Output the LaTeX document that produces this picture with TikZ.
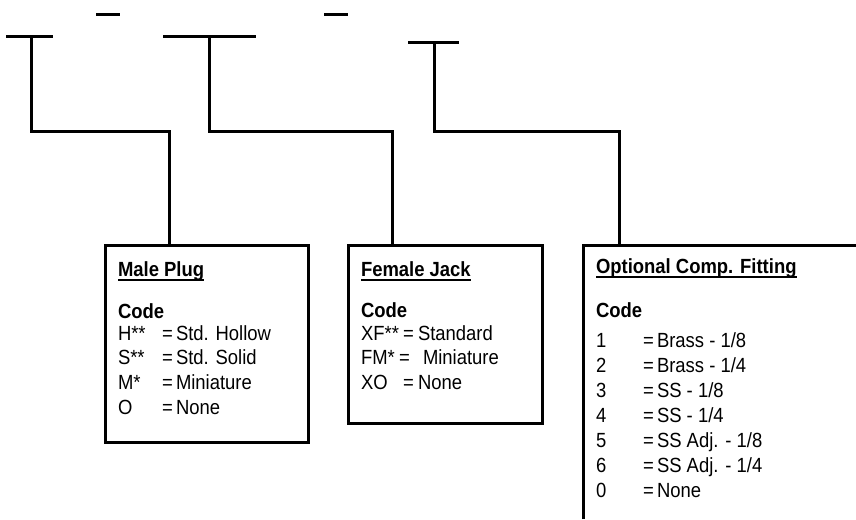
\documentclass[tikz,border=0pt]{standalone}
\usepackage{fontspec}
\setmainfont[FakeStretch=0.9]{Liberation Sans}
\begin{document}
\begin{tikzpicture}[x=1pt,y=-1pt,line width=3pt,
  lbl/.style={anchor=base west,inner sep=0pt,outer sep=0pt,font=\fontsize{20.5}{22}\selectfont},
  hdr/.style={lbl,font=\fontsize{20.5}{22}\selectfont\bfseries},
  boxnode/.style={draw,line width=3pt,anchor=north west,inner sep=0pt,outer sep=0pt},
  uline/.style={line width=1.3pt},
  wire/.style={line width=3pt}]
\useasboundingbox (0,0) rectangle (856,519);

% short marks and bars at the top
\coordinate (m1L) at (96,15);  \coordinate (m1R) at (120,15);
\coordinate (m2L) at (324,15); \coordinate (m2R) at (348,15);
\coordinate (b1L) at (6,37);   \coordinate (b1R) at (53,37);   \coordinate (b1c) at (31,37);
\coordinate (b2L) at (163,37); \coordinate (b2R) at (256,37);  \coordinate (b2c) at (209,37);
\coordinate (b3L) at (408,43); \coordinate (b3R) at (459,43);  \coordinate (b3c) at (434,43);
\draw[wire] (m1L) -- (m1R);
\draw[wire] (m2L) -- (m2R);
\draw[wire] (b1L) -- (b1R);
\draw[wire] (b2L) -- (b2R);
\draw[wire] (b3L) -- (b3R);

% boxes
\node[boxnode,minimum width=203pt,minimum height=197pt] (box1) at (105,245) {};
\node[boxnode,minimum width=194pt,minimum height=178pt] (box2) at (348,245) {};
\node[anchor=north west,inner sep=0pt,outer sep=0pt,minimum width=273pt,minimum height=274pt] (box3) at (583,245) {};
\draw[wire] (box3.south west) -- (box3.north west) -- (box3.north east);

% connectors
\coordinate (j1) at (169,131);
\coordinate (j2) at (392,131);
\coordinate (j3) at (619,131);
\draw[wire] (b1c) |- (j1) -- (j1 |- box1.north);
\draw[wire] (b2c) |- (j2) -- (j2 |- box2.north);
\draw[wire] (b3c) |- (j3) -- (j3 |- box3.north);

% box 1 text
\node[hdr] (h1) at (118,276) {Male Plug};
\draw[uline] ([yshift=-4pt]h1.base west) -- ([yshift=-4pt]h1.base east);
\node[hdr] (c1) at (118,318) {Code};
\foreach \y/\k/\v [count=\i] in {340/H**/Std. Hollow,364/S**/Std. Solid,389/M*/Miniature,414/O/None}{
  \node[lbl] (k1\i) at (118,\y) {\k};
  \node[lbl] (e1\i) at (162,\y) {=};
  \node[lbl] (v1\i) at (176,\y) {\v};
}

% box 2 text
\node[hdr] (h2) at (361,276) {Female Jack};
\draw[uline] ([yshift=-4pt]h2.base west) -- ([yshift=-4pt]h2.base east);
\node[hdr] (c2) at (361,317) {Code};
\foreach \y/\k/\ex/\vx/\v [count=\i] in {340/XF**/403/418/Standard,364/FM*/399/423/Miniature,389/XO/403/418/None}{
  \node[lbl] (k2\i) at (361,\y) {\k};
  \node[lbl] (e2\i) at (\ex,\y) {=};
  \node[lbl] (v2\i) at (\vx,\y) {\v};
}

% box 3 text
\node[hdr] (h3) at (596,273) {Optional Comp. Fitting};
\draw[uline] ([yshift=-4pt]h3.base west) -- ([yshift=-4pt]h3.base east);
\node[hdr] (c3) at (596,317) {Code};
\foreach \y/\k/\v [count=\i] in {347/1/Brass - 1\slash 8,372/2/Brass - 1\slash 4,397/3/SS - 1\slash 8,422/4/SS - 1\slash 4,447/5/SS Adj. - 1\slash 8,472/6/SS Adj. - 1\slash 4,497/0/None}{
  \node[lbl] (k3\i) at (596,\y) {\k};
  \node[lbl] (e3\i) at (643,\y) {=};
  \node[lbl] (v3\i) at (657,\y) {\v};
}
\end{tikzpicture}
\end{document}
